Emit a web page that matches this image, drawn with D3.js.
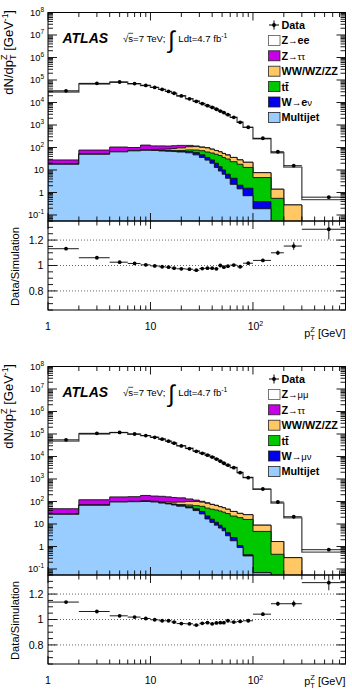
<!DOCTYPE html>
<html><head><meta charset="utf-8">
<script src="https://cdn.jsdelivr.net/npm/d3@7"></script>
<style>
body{margin:0;background:#fff}
svg{display:block}
text{font-family:"Liberation Sans",Arial,Helvetica,sans-serif;fill:#000}
</style>
</head><body>
<svg id="c" width="352" height="689"></svg>
<script>
// ---------- DATA ----------
const binEdges = [0,2,4,6,8,10,12,14,16,18,22,26,30,34,38,42,46,50,54,60,70,80,100,150,200,300,800];
const binCenters = [1.5,3,5,7,9,11,13,15,17,20,24,28,32,36,40,44,48,52,57,65,75,90,125,175,250,550];

// electron channel (top)
const eeData = [33100,70800,81300,69200,57500,46800,38000,30900,25700,19500,14500,11200,8900,7240,6030,5010,4170,3550,2880,2190,1320,794,257,64.6,15.5,0.62];
const eeSignal = [29200,66700,79100,68000,57100,46800,38300,31200,26100,19900,14800,11500,9010,7300,6070,5070,4100,3540,2850,2150,1300,758,239,57.3,13.2,0.48];
const eeZtautau = [9.3,25.5,38,25,48,36,34,30,30,28,16,7,4,2,1,1,1,1,1,0.3,0.2,0.1,0,0,0,0];
const eeDiboson = [0.2,0.5,1,1.5,2,4,8.5,11,16,22,30,33,30,33,27,23,20,18,15,12.5,10,9,3,0.85,0.28,0];
const eeTtbar = [0.2,0.5,1,1.5,1.5,2,3,4,4.5,6,12,18,25,27,29,30,30,26,24.5,19.2,15.9,11.45,4.21,0.55,0,0];
const eeW = [0.3,0.5,1,1,1.5,2,2.5,3,3.5,5,8,12,11,8.5,8,7,5,3.5,2.2,2,0.65,0.83,0.2,0,0,0];
const eeMultijet = [18,50,64,71,75,74,70,68,66,63,58,47,36,27.5,20,13,9,6.5,4.3,2.3,1.45,0.72,0.19,0,0,0];
const eeRatio = [1.132,1.061,1.026,1.016,1.005,0.997,0.99,0.987,0.979,0.974,0.971,0.963,0.976,0.979,0.979,0.974,1.0,0.987,0.995,1.003,0.99,1.018,1.04,1.10,1.153,1.285];
const eeRatioErr = [0.004,0.003,0.003,0.003,0.003,0.003,0.003,0.003,0.003,0.003,0.003,0.003,0.004,0.004,0.004,0.005,0.005,0.006,0.006,0.006,0.008,0.01,0.012,0.018,0.03,0.08];
const eeLegend = ["Data","Z→ee","Z→ττ","WW/WZ/ZZ","tt̄","W→eν","Multijet"];

// muon channel (bottom)
const mmData = [55000,107000,118000,100000,85000,71000,59000,48000,39000,29500,22500,17000,13800,11400,9400,7700,6200,5000,4100,3200,1900,1150,360,95,21,0.72];
const mmSignal = [48300,100500,114500,98000,84100,71000,59400,48300,39600,30300,23200,17700,14100,11600,9650,7850,6300,5080,4100,3230,1900,1140,337,82.9,18.4,0.56];
const mmZtautau = [20,50,62,62,80,72,72,65,58,50,30,15,8,4,2,1,1,0.8,0.5,0.3,0.2,0.1,0,0,0,0];
const mmDiboson = [0.2,0.5,1,1.5,2,4,8,11,15,22,30,35,33,33,28,25,21,19,16,13.5,10.5,10,4.2,1.21,0.32,0];
const mmTtbar = [0.2,0.5,1,1.5,2,2,3,4,5,7,12,18,25,28,29,30,29,27,25,20,18,15.5,4.6,0.45,0,0];
const mmW = [0.3,0.5,1,1,1.5,2,2,2.5,3,4,6,8,8,6,4.5,3,2.2,1.6,1.1,0.7,0.2,0.05,0.002,0,0,0];
const mmMultijet = [27,68,95,98,100,95,85,78,70,62,52,39.5,28,16.7,11.8,8.9,6.6,5.0,3.0,1.8,0.9,0.38,0.068,0,0,0];
const mmRatio = [1.137,1.063,1.029,1.019,1.008,0.998,0.99,0.99,0.98,0.968,0.966,0.956,0.97,0.975,0.966,0.973,0.975,0.975,0.99,0.98,0.985,0.99,1.042,1.124,1.124,1.29];
const mmRatioErr = [0.004,0.003,0.003,0.003,0.003,0.003,0.003,0.003,0.003,0.003,0.003,0.003,0.004,0.004,0.004,0.005,0.005,0.006,0.006,0.006,0.008,0.01,0.012,0.016,0.025,0.06];
const mmLegend = ["Data","Z→μμ","Z→ττ","WW/WZ/ZZ","tt̄","W→μν","Multijet"];

const yTickExps = [-1,0,1,2,3,4,5,6,7,8];
const ratioTicks = [0.8,1.0,1.2];
const xTickLabels = [["1",""],["10",""],["10","2"]];
const xTickValues = [1,10,100];

// ---------- LAYOUT ----------
const L = 48, R = 345.5, T = 12.5, MB = 221, RB = 310;
const svg = d3.select("#c");
const x = d3.scaleLog().domain([1, 800]).range([L, R]);
const yMin = Math.pow(10, -1.267);
const y = d3.scaleLog().domain([yMin, 1e8]).range([MB, T]);
const yr = d3.scaleLinear().domain([0.65, 1.35]).range([RB, MB]);
const colors = {signal:"#ffffff", ztautau:"#c800e8", diboson:"#ffc864", ttbar:"#00c800", w:"#0000ee", multijet:"#99ccff"};

svg.append("defs").html(
  `<clipPath id="cm"><rect x="${L}" y="${T}" width="${R-L}" height="${MB-T}"/></clipPath>
   <clipPath id="cr"><rect x="${L}" y="${MB}" width="${R-L}" height="${RB-MB}"/></clipPath>`);

function yv(v){ return v > yMin ? y(v) : MB + 3; }

function stepPath(vals){
  let p = `M${x(Math.max(binEdges[0],1))},${MB+3}`;
  vals.forEach((v,i)=>{
    const xl = x(Math.max(binEdges[i],1)), xr = x(binEdges[i+1]);
    const yy = yv(v);
    p += `L${xl},${yy}L${xr},${yy}`;
  });
  p += `L${x(binEdges[binEdges.length-1])},${MB+3}Z`;
  return p;
}

function styledLabel(sel, label){
  let runs = [];
  for (const ch of label){
    const isThin = /[→τμν]/.test(ch);
    if (runs.length && runs[runs.length-1].thin===isThin) runs[runs.length-1].t += ch;
    else runs.push({t:ch, thin:isThin});
  }
  runs.forEach(r=>{
    sel.append("tspan").text(r.t)
      .attr("font-weight", r.thin ? "normal" : "bold")
      .attr("font-size", r.thin ? "9.5px" : null);
  });
}

function drawPanel(g, d){
  const n = d.data.length;
  const layers = [d.multijet, d.w, d.ttbar, d.diboson, d.ztautau, d.signal];
  const names = ["multijet","w","ttbar","diboson","ztautau","signal"];
  const cum = [];
  let acc = new Array(n).fill(0);
  layers.forEach(arr=>{ acc = acc.map((a,i)=>a+arr[i]); cum.push(acc.slice()); });

  const gm = g.append("g").attr("clip-path","url(#cm)");
  for (let k = layers.length-1; k >= 0; k--){
    gm.append("path").attr("d", stepPath(cum[k]))
      .attr("fill", colors[names[k]])
      .attr("stroke", k===layers.length-1 ? "#555" : "#111")
      .attr("stroke-width", k===layers.length-1 ? 1.4 : 0.9)
      .attr("stroke-linejoin","miter");
  }
  d.data.forEach((v,i)=>{
    const yy = y(v);
    gm.append("line").attr("x1", x(Math.max(binEdges[i],1))).attr("x2", x(binEdges[i+1]))
      .attr("y1", yy).attr("y2", yy).attr("stroke","#000").attr("stroke-width",0.9);
    gm.append("circle").attr("cx", x(binCenters[i])).attr("cy", yy).attr("r",1.9).attr("fill","#000");
  });

  const gr = g.append("g").attr("clip-path","url(#cr)");
  ratioTicks.forEach(t=>{
    gr.append("line").attr("x1",L).attr("x2",R).attr("y1",yr(t)).attr("y2",yr(t))
      .attr("stroke","#555").attr("stroke-width",0.9).attr("stroke-dasharray","1,2");
  });
  d.ratio.forEach((v,i)=>{
    const yy = yr(v), e = d.ratioErr[i];
    gr.append("line").attr("x1", x(Math.max(binEdges[i],1))).attr("x2", x(binEdges[i+1]))
      .attr("y1", yy).attr("y2", yy).attr("stroke","#000").attr("stroke-width",0.9);
    gr.append("line").attr("x1", x(binCenters[i])).attr("x2", x(binCenters[i]))
      .attr("y1", yr(v-e)).attr("y2", yr(v+e)).attr("stroke","#000").attr("stroke-width",0.9);
    gr.append("circle").attr("cx", x(binCenters[i])).attr("cy", yy).attr("r",1.9).attr("fill","#000");
  });

  g.append("rect").attr("x",L).attr("y",T).attr("width",R-L).attr("height",MB-T)
    .attr("fill","none").attr("stroke","#000").attr("stroke-width",1);
  g.append("rect").attr("x",L).attr("y",MB).attr("width",R-L).attr("height",RB-MB)
    .attr("fill","none").attr("stroke","#000").attr("stroke-width",1);

  const tk = g.append("g").attr("stroke","#000").attr("stroke-width",0.9);
  for (let e=-2; e<=8; e++){
    for (let k=1;k<=9;k++){
      const v = k*Math.pow(10,e);
      if (v < yMin || v > 1e8*1.0001) continue;
      const len = k===1 ? 9 : 5, yy = y(v);
      tk.append("line").attr("x1",L).attr("x2",L+len).attr("y1",yy).attr("y2",yy);
      tk.append("line").attr("x1",R).attr("x2",R-len).attr("y1",yy).attr("y2",yy);
    }
  }
  for (let e=0;e<=2;e++){
    for (let k=1;k<=9;k++){
      const v = k*Math.pow(10,e);
      if (v > 800) continue;
      const len = k===1 ? 8 : 4.5, xx = x(v);
      [[MB,-1],[T,1],[MB,1],[RB,-1]].forEach(([yy,dir])=>{
        tk.append("line").attr("x1",xx).attr("x2",xx).attr("y1",yy).attr("y2",yy+dir*len);
      });
    }
  }
  for (let v=0.65; v<=1.351; v+=0.05){
    const vv = Math.round(v*100)/100;
    const major = ratioTicks.some(t=>Math.abs(t-vv)<1e-6);
    const len = major ? 9 : 5, yy = yr(vv);
    tk.append("line").attr("x1",L).attr("x2",L+len).attr("y1",yy).attr("y2",yy);
    tk.append("line").attr("x1",R).attr("x2",R-len).attr("y1",yy).attr("y2",yy);
  }

  yTickExps.forEach(e=>{
    const t = g.append("text").attr("x",44).attr("y",y(Math.pow(10,e))+3.3)
      .attr("text-anchor","end").attr("font-size","9.3px");
    if (e===0) t.text("1");
    else if (e===1) t.text("10");
    else { t.append("tspan").text("10"); t.append("tspan").text(e).attr("font-size","6.5px").attr("dy",-4); }
  });
  ratioTicks.forEach(v=>{
    g.append("text").attr("x",43.5).attr("y",yr(v)+3.8).attr("text-anchor","end")
      .attr("font-size","10.7px").text(v===1?"1":d3.format(".1f")(v));
  });
  xTickValues.forEach((v,i)=>{
    const t = g.append("text").attr("x",x(v) + (xTickLabels[i][1] ? 2.5 : 0)).attr("y",RB+20)
      .attr("text-anchor","middle").attr("font-size","10.5px");
    t.append("tspan").text(xTickLabels[i][0]);
    if (xTickLabels[i][1]) t.append("tspan").text(xTickLabels[i][1]).attr("font-size","7px").attr("dy",-4.5);
  });

  const xt = g.append("text").attr("x",R).attr("y",RB + d.xTitleDy).attr("text-anchor","end").attr("font-size","10.8px");
  xt.append("tspan").text("p");
  xt.append("tspan").text("T").attr("font-size","7.5px").attr("dy",3);
  xt.append("tspan").text("Z").attr("font-size","7.5px").attr("dx",-4.6).attr("dy",-8);
  xt.append("tspan").text(" [GeV]").attr("dy",5);

  const yt = g.append("text").attr("transform",`translate(12.5,10) rotate(-90)`)
    .attr("text-anchor","end").attr("font-size","13px");
  yt.append("tspan").text("dN/dp");
  yt.append("tspan").text("T").attr("font-size","9px").attr("dy",3.5);
  yt.append("tspan").text("Z").attr("font-size","9px").attr("dx",-5.5).attr("dy",-9.5);
  yt.append("tspan").text(" [GeV").attr("dy",6);
  yt.append("tspan").text("-1").attr("font-size","8.5px").attr("dy",-5);
  yt.append("tspan").text("]").attr("dy",5);

  g.append("text").attr("transform",`translate(19,266.5) rotate(-90)`)
    .attr("text-anchor","middle").attr("font-size","11.2px").text("Data/Simulation");

  g.append("text").attr("x",62.5).attr("y",43).attr("font-size","14px")
    .attr("font-weight","bold").attr("font-style","italic").text("ATLAS");
  const en = g.append("text").attr("x",123).attr("y",41.5).attr("font-size","9.6px");
  en.append("tspan").text("√");
  en.append("tspan").text("s");
  en.append("tspan").text("=7 TeV;");
  const enEnd = 123 + en.node().getComputedTextLength();
  g.append("line").attr("x1",123+5.2).attr("x2",123+10.2).attr("y1",33.3).attr("y2",33.3)
    .attr("stroke","#000").attr("stroke-width",0.7);
  g.append("text").attr("x",enEnd+3).attr("y",48).attr("font-size","24px")
    .attr("font-family","DejaVu Sans").attr("font-weight","300").text("∫");
  const lt = g.append("text").attr("x",enEnd+13).attr("y",41.5).attr("font-size","9.6px");
  lt.append("tspan").text("Ldt=4.7 fb");
  lt.append("tspan").text("-1").attr("font-size","6.8px").attr("dy",-4);

  const legColors = [null, colors.signal, colors.ztautau, colors.diboson, colors.ttbar, colors.w, colors.multijet];
  d.legend.forEach((lab,i)=>{
    const cy = 25 + i*15.4;
    if (i===0){
      g.append("line").attr("x1",269).attr("x2",279).attr("y1",cy).attr("y2",cy).attr("stroke","#000").attr("stroke-width",1);
      g.append("line").attr("x1",274).attr("x2",274).attr("y1",cy-4.5).attr("y2",cy+4.5).attr("stroke","#000").attr("stroke-width",1);
      g.append("circle").attr("cx",274).attr("cy",cy).attr("r",1.9).attr("fill","#000");
    } else {
      g.append("rect").attr("x",268.5).attr("y",cy-5).attr("width",11.5).attr("height",10)
        .attr("fill",legColors[i]).attr("stroke", i===1 ? "#555" : "#222").attr("stroke-width",0.8);
    }
    const t = g.append("text").attr("x",281.5).attr("y",cy+3.9).attr("font-size","10.8px").attr("font-weight","bold");
    styledLabel(t, lab);
  });
}

const gTop = svg.append("g");
drawPanel(gTop, {data:eeData, signal:eeSignal, ztautau:eeZtautau, diboson:eeDiboson, ttbar:eeTtbar,
  w:eeW, multijet:eeMultijet, ratio:eeRatio, ratioErr:eeRatioErr, legend:eeLegend, xTitleDy:27});
const gBot = svg.append("g").attr("transform","translate(0,354)");
drawPanel(gBot, {data:mmData, signal:mmSignal, ztautau:mmZtautau, diboson:mmDiboson, ttbar:mmTtbar,
  w:mmW, multijet:mmMultijet, ratio:mmRatio, ratioErr:mmRatioErr, legend:mmLegend, xTitleDy:20.5});
</script>
</body></html>
